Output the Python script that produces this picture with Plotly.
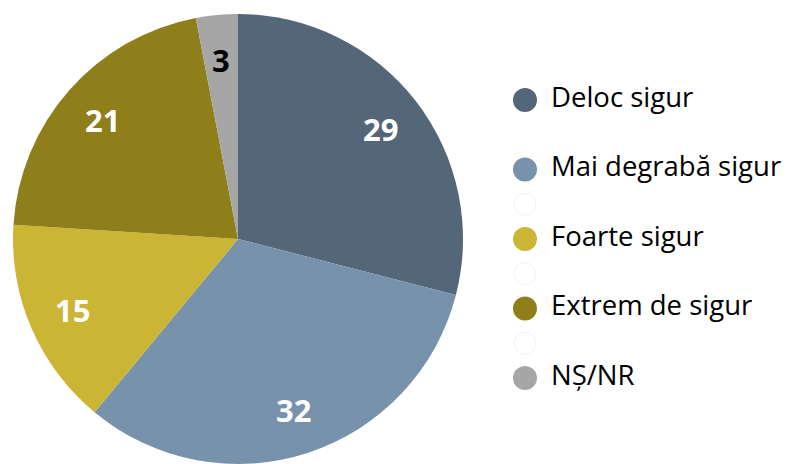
import math
import plotly.graph_objects as go

# Survey shares (%), clockwise from 12 o'clock
categories = ["Deloc sigur", "Mai degrabă sigur", "Foarte sigur", "Extrem de sigur", "NȘ/NR"]
values = [29, 32, 15, 21, 3]
colors = ["#546779", "#7792AA", "#CBB534", "#8F7F1A", "#A6A6A6"]
label_colors = ["white", "white", "white", "white", "black"]

W, H = 789, 464
CX, CY, R = 238, 239, 225          # pie centre / radius in pixels
LABEL_R = 0.80 * R                 # radius where the value labels sit

fig = go.Figure()

fig.add_trace(go.Pie(
    labels=categories,
    values=values,
    marker=dict(colors=colors, line=dict(width=0)),
    sort=False,
    direction="clockwise",
    rotation=0,
    textinfo="none",
    hoverinfo="label+value",
    showlegend=False,
    domain=dict(x=[(CX - R) / W, (CX + R) / W], y=[(H - CY - R) / H, (H - CY + R) / H]),
))

# value labels at the middle angle of every slice (annotations sit above the pie layer)
total = sum(values)
cum = 0
for v, col in zip(values, label_colors):
    ang = 2 * math.pi * (cum + v / 2) / total
    fig.add_annotation(
        x=CX + LABEL_R * math.sin(ang), y=CY - LABEL_R * math.cos(ang),
        xref="x", yref="y", text=str(v), showarrow=False,
        font=dict(family="Open Sans", size=31, color=col, weight="bold"),
    )
    cum += v

# legend: coloured dots with labels, faint empty dots between entries
LEG_X, TXT_X, LEG_Y0, STEP = 525, 551, 100, 34.75
slots = [0, 2, 4, 6, 8]
leg_y = [LEG_Y0 + STEP * s for s in slots]
fig.add_trace(go.Scatter(
    x=[LEG_X] * len(categories), y=leg_y, mode="markers",
    marker=dict(size=24, color=colors, line=dict(width=0)),
    hoverinfo="skip", showlegend=False,
))
blank_y = [LEG_Y0 + STEP * s for s in (3, 5, 7)]
fig.add_trace(go.Scatter(
    x=[LEG_X] * len(blank_y), y=blank_y, mode="markers",
    marker=dict(size=22, color="white", line=dict(width=1, color="#F2F2F2")),
    hoverinfo="skip", showlegend=False,
))
fig.add_trace(go.Scatter(
    x=[TXT_X] * len(categories), y=leg_y, mode="text", text=categories,
    textposition="middle right",
    textfont=dict(family="Open Sans", size=27.5, color="black"),
    hoverinfo="skip", showlegend=False,
))

fig.update_layout(
    width=W, height=H,
    margin=dict(l=0, r=0, t=0, b=0),
    paper_bgcolor="white", plot_bgcolor="rgba(0,0,0,0)",
    xaxis=dict(range=[0, W], visible=False, fixedrange=True),
    yaxis=dict(range=[H, 0], visible=False, fixedrange=True),
)

fig.write_html("out.html")
